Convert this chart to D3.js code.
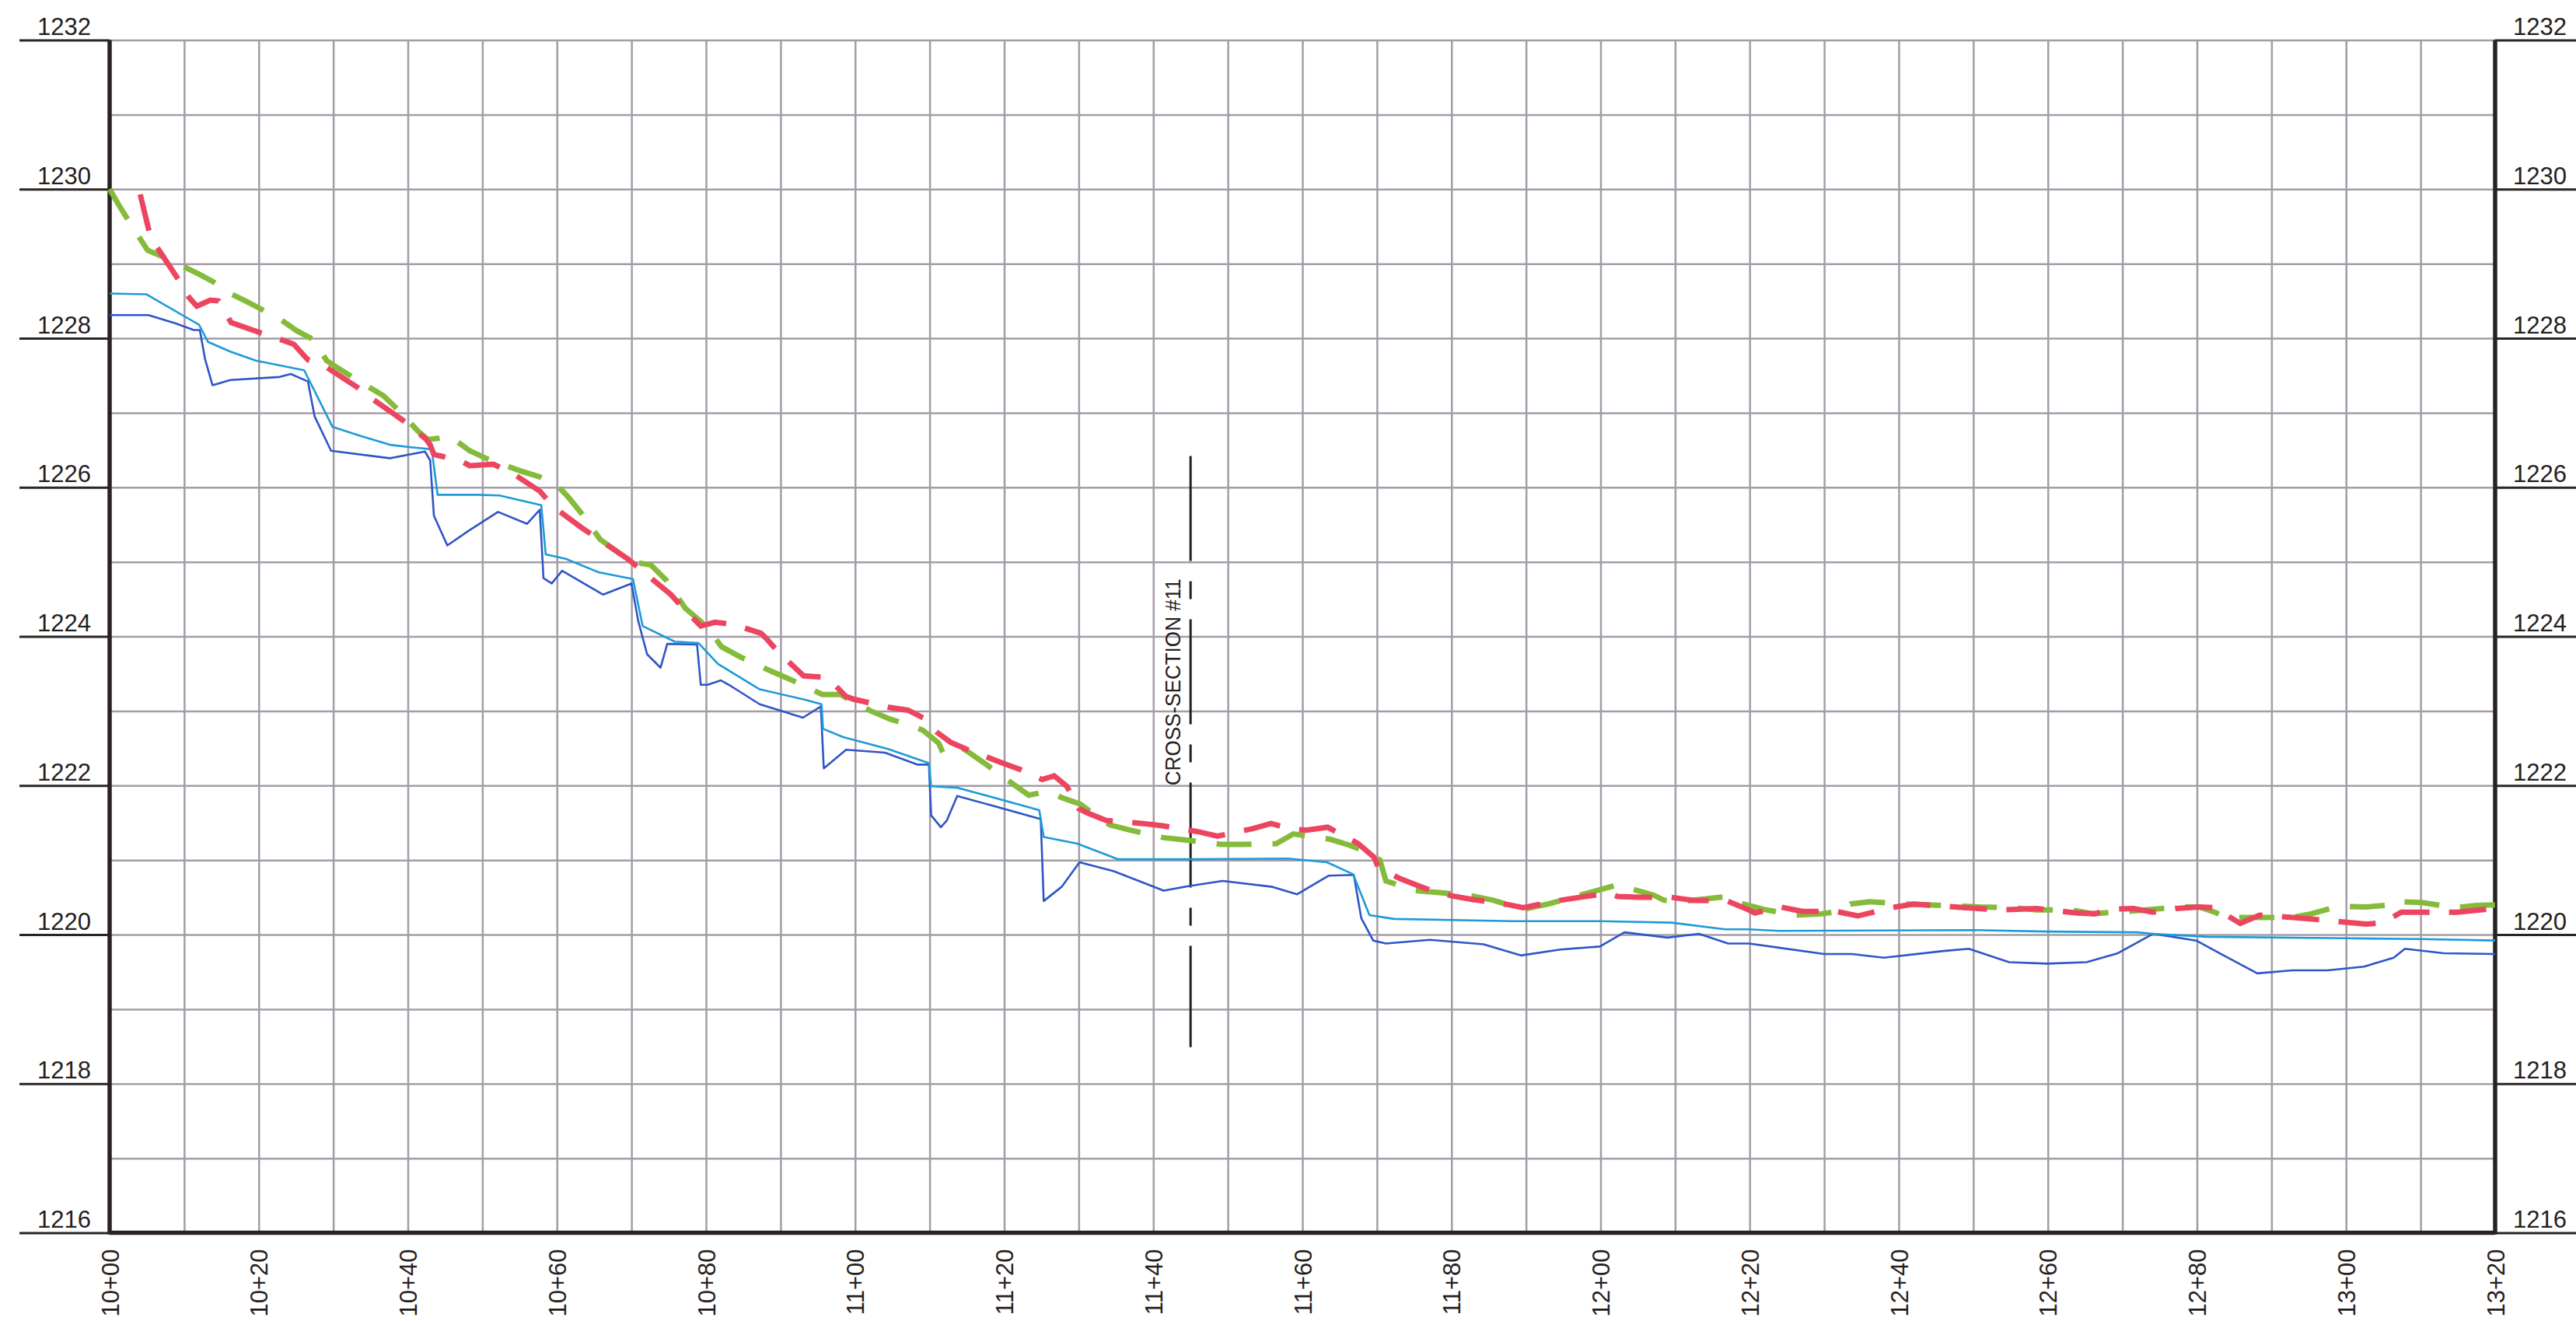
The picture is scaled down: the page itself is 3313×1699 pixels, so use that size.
<!DOCTYPE html>
<html lang="en">
<head>
<meta charset="utf-8">
<script src="https://cdn.jsdelivr.net/npm/d3@7"></script>
<style>
  body { margin: 0; background: #fff; }
  svg { display: block; font-family: "Liberation Sans", Arial, sans-serif; }
  .grid line { stroke: #a39da7; stroke-width: 2.5; }
  .grid path { display: none; }
  .tick text { fill: #252020; font-size: 31px; font-family: "Liberation Sans", Arial, sans-serif; }
</style>
</head>
<body>
<script>
// stations in feet (10+00 = 1000), elevations in feet
var elevTicks = [1216, 1218, 1220, 1222, 1224, 1226, 1228, 1230, 1232];
var stationTicks = [1000, 1020, 1040, 1060, 1080, 1100, 1120, 1140, 1160,
                    1180, 1200, 1220, 1240, 1260, 1280, 1300, 1320];

// green dashed profile
var greenLine = [[1000,1230.00],[1001.1,1229.81],[1002.7,1229.55],[1005.1,1229.18],[1007.5,1229.08],[1012.0,1228.86],
  [1014.4,1228.73],[1015.8,1228.62],[1018.6,1228.48],[1020.9,1228.36],[1022.8,1228.26],[1025.1,1228.10],[1027.4,1227.98],
  [1029.1,1227.70],[1030.3,1227.62],[1032.7,1227.47],[1036.7,1227.23],[1038.7,1227.04],[1041.3,1226.76],[1042.7,1226.64],
  [1044.2,1226.66],[1045.6,1226.69],[1048.3,1226.49],[1050.7,1226.38],[1055.1,1226.22],[1057.7,1226.14],[1060.0,1226.03],
  [1061.6,1225.86],[1063.3,1225.65],[1065.8,1225.30],[1070.0,1225.00],[1072.6,1224.96],[1074.7,1224.75],[1077.2,1224.38],
  [1080.0,1224.14],[1082.1,1223.86],[1084.7,1223.72],[1088.8,1223.53],[1091.6,1223.41],[1095.6,1223.22],[1098.1,1223.22],
  [1099.5,1223.13],[1102.1,1223.00],[1104.7,1222.89],[1107.0,1222.82],[1109.1,1222.74],[1111.2,1222.57],[1111.6,1222.48],
  [1113.3,1222.56],[1114.9,1222.47],[1117.2,1222.31],[1120.9,1222.04],[1123.3,1221.87],[1125.8,1221.92],[1127.9,1221.83],
  [1130.2,1221.75],[1132.1,1221.61],[1134.2,1221.47],[1137.0,1221.40],[1141.4,1221.30],[1144.2,1221.27],[1149.1,1221.21],
  [1151.9,1221.21],[1156.5,1221.22],[1158.8,1221.35],[1163.7,1221.28],[1166.3,1221.20],[1168.6,1221.11],[1170.4,1221.00],
  [1171.2,1220.72],[1175.2,1220.59],[1178.7,1220.56],[1182.7,1220.52],[1185.6,1220.46],[1189.6,1220.34],[1193.0,1220.41],
  [1197.3,1220.53],[1199.9,1220.60],[1202.3,1220.67],[1204.2,1220.61],[1207.1,1220.53],[1208.5,1220.46],[1211.4,1220.45],
  [1217.0,1220.51],[1218.8,1220.42],[1221.8,1220.34],[1226.0,1220.26],[1229.7,1220.28],[1231.9,1220.31],[1233.5,1220.41],
  [1236.1,1220.44],[1240.9,1220.41],[1246.3,1220.39],[1250.9,1220.37],[1255.6,1220.36],[1258.5,1220.33],[1263.2,1220.33],
  [1266.0,1220.28],[1270.7,1220.31],[1274.1,1220.34],[1278.0,1220.37],[1280.3,1220.37],[1282.4,1220.30],[1283.7,1220.24],
  [1285.3,1220.23],[1292.8,1220.23],[1295.4,1220.28],[1299.0,1220.38],[1302.7,1220.37],[1307.4,1220.41],[1307.6,1220.44],
  [1310.2,1220.43],[1314.6,1220.36],[1317.5,1220.39],[1320.0,1220.40]];

// red dashed profile
var redLine = [[1004.1,1229.93],[1005.5,1229.35],[1009.4,1228.76],[1010.7,1228.54],[1011.7,1228.43],[1013.5,1228.51],
  [1014.6,1228.50],[1016.0,1228.26],[1016.3,1228.21],[1020.3,1228.07],[1023.0,1227.98],[1024.7,1227.92],[1026.6,1227.71],
  [1029.1,1227.61],[1033.1,1227.35],[1035.3,1227.18],[1039.2,1226.91],[1041.3,1226.74],[1042.5,1226.64],[1043.0,1226.57],
  [1043.5,1226.44],[1044.4,1226.42],[1047.0,1226.36],[1048.3,1226.29],[1051.5,1226.31],[1054.0,1226.19],[1057.7,1225.95],
  [1059.5,1225.74],[1063.3,1225.46],[1065.8,1225.29],[1069.5,1225.04],[1075.3,1224.56],[1077.2,1224.35],[1079.3,1224.14],
  [1081.2,1224.19],[1083.7,1224.16],[1087.4,1224.04],[1088.1,1223.97],[1089.8,1223.78],[1093.1,1223.47],[1096.1,1223.45],
  [1096.8,1223.40],[1098.7,1223.20],[1099.7,1223.16],[1102.3,1223.10],[1104.4,1223.05],[1107.1,1223.01],[1109.3,1222.90],
  [1110.9,1222.72],[1112.8,1222.58],[1115.1,1222.48],[1119.8,1222.30],[1122.3,1222.21],[1125.1,1222.08],[1126.7,1222.13],
  [1128.4,1221.99],[1130.0,1221.69],[1131.2,1221.63],[1133.7,1221.53],[1138.6,1221.49],[1141.2,1221.46],[1146.0,1221.38],
  [1148.6,1221.32],[1153.3,1221.42],[1155.8,1221.49],[1158.4,1221.42],[1160.5,1221.40],[1163.4,1221.44],[1167.5,1221.22],
  [1169.6,1221.04],[1170.2,1220.90],[1173.1,1220.75],[1175.7,1220.65],[1177.3,1220.59],[1180.0,1220.52],[1182.9,1220.47],
  [1187.7,1220.40],[1189.6,1220.36],[1194.6,1220.46],[1199.9,1220.54],[1201.0,1220.56],[1202.3,1220.51],[1205.3,1220.50],
  [1209.5,1220.50],[1212.4,1220.46],[1217.0,1220.45],[1219.9,1220.33],[1220.7,1220.29],[1224.1,1220.37],[1227.1,1220.31],
  [1231.6,1220.31],[1234.5,1220.25],[1239.0,1220.36],[1242.0,1220.41],[1246.3,1220.38],[1249.1,1220.36],[1253.5,1220.33],
  [1258.5,1220.35],[1261.1,1220.32],[1263.9,1220.29],[1266.3,1220.28],[1268.6,1220.34],[1271.5,1220.35],[1274.1,1220.30],
  [1277.2,1220.35],[1280.3,1220.37],[1282.7,1220.36],[1283.2,1220.31],[1285.8,1220.15],[1288.4,1220.26],[1292.8,1220.23],
  [1297.5,1220.19],[1302.7,1220.14],[1305.0,1220.16],[1307.4,1220.30],[1314.9,1220.30],[1320.0,1220.35]];

// light blue profile
var lightBlueLine = [[1000,1228.60],[1004.9,1228.59],[1012.0,1228.18],[1013.2,1227.95],[1016.2,1227.82],[1019.6,1227.70],
  [1022.6,1227.64],[1026.1,1227.57],[1029.9,1226.81],[1033.6,1226.69],[1037.6,1226.57],[1040.2,1226.54],[1043.2,1226.51],
  [1044.0,1225.90],[1049.3,1225.90],[1052.3,1225.89],[1057.9,1225.76],[1058.5,1225.10],[1061.2,1225.04],[1065.6,1224.86],
  [1070.2,1224.77],[1071.5,1224.14],[1075.8,1223.93],[1079.0,1223.91],[1081.6,1223.63],[1087.2,1223.29],[1093.3,1223.15],
  [1095.5,1223.09],[1095.7,1222.76],[1098.4,1222.65],[1104.4,1222.49],[1109.9,1222.30],[1110.2,1221.99],[1113.7,1221.97],
  [1120.0,1221.80],[1124.7,1221.67],[1125.3,1221.31],[1129.8,1221.22],[1135.3,1221.01],[1144.9,1221.01],[1158.1,1221.02],
  [1163.3,1220.97],[1166.8,1220.81],[1169.0,1220.26],[1172.3,1220.21],[1188.2,1220.18],[1199.9,1220.18],[1209.5,1220.16],
  [1216.7,1220.07],[1219.9,1220.07],[1223.9,1220.05],[1250.0,1220.06],[1259.9,1220.04],[1272.0,1220.03],[1274.1,1220.01],
  [1281.4,1219.97],[1300.0,1219.95],[1310.0,1219.94],[1320.0,1219.92]];

// dark blue profile
var darkBlueLine = [[1000,1228.31],[1005.2,1228.31],[1008.8,1228.20],[1011.3,1228.11],[1012.1,1228.11],[1012.8,1227.72],
  [1013.8,1227.37],[1016.2,1227.44],[1022.8,1227.48],[1024.3,1227.52],[1026.6,1227.42],[1027.5,1226.95],[1029.7,1226.49],
  [1037.6,1226.39],[1042.3,1226.48],[1043.0,1226.36],[1043.5,1225.62],[1045.3,1225.22],[1048.2,1225.42],[1052.1,1225.67],
  [1056.0,1225.51],[1057.7,1225.70],[1058.2,1224.78],[1059.3,1224.71],[1060.7,1224.88],[1066.2,1224.56],[1070.0,1224.71],
  [1070.9,1224.21],[1072.1,1223.76],[1073.9,1223.58],[1074.8,1223.90],[1078.8,1223.89],[1079.3,1223.35],[1080.2,1223.35],
  [1082.0,1223.41],[1083.4,1223.33],[1087.2,1223.09],[1093.0,1222.91],[1095.4,1223.06],[1095.8,1222.23],[1098.8,1222.48],
  [1104.0,1222.44],[1108.4,1222.28],[1109.9,1222.28],[1110.2,1221.60],[1111.5,1221.44],[1112.3,1221.53],[1113.7,1221.86],
  [1124.9,1221.55],[1125.3,1220.45],[1127.7,1220.64],[1130.1,1220.97],[1134.7,1220.85],[1141.4,1220.59],[1144.7,1220.65],
  [1149.3,1220.72],[1156.0,1220.64],[1159.3,1220.54],[1163.5,1220.79],[1166.9,1220.80],[1167.9,1220.22],[1169.5,1219.92],
  [1171.2,1219.88],[1177.1,1219.93],[1184.3,1219.87],[1189.3,1219.72],[1194.6,1219.80],[1199.9,1219.84],[1203.2,1220.03],
  [1209.0,1219.96],[1213.2,1220.01],[1217.1,1219.88],[1219.9,1219.88],[1230.0,1219.74],[1233.7,1219.74],[1238.0,1219.69],
  [1246.0,1219.78],[1249.4,1219.81],[1254.8,1219.63],[1259.9,1219.61],[1265.2,1219.63],[1269.4,1219.75],[1274.1,1220.01],
  [1279.9,1219.92],[1283.4,1219.73],[1288.1,1219.48],[1292.8,1219.52],[1297.5,1219.52],[1302.4,1219.57],[1306.4,1219.69],
  [1307.9,1219.81],[1313.1,1219.75],[1320.0,1219.74]];

// cross-section marker
var crossSection = { label: "CROSS-SECTION #11", station: 1145, top: 1226.42, bottom: 1218.49, textFrom: 1222.0 };

var w = 3313, h = 1699;
var plotLeft = 141, plotRight = 3209, plotTop = 51.5, plotBottom = 1585.5;

var x = d3.scaleLinear().domain([1000, 1320]).range([plotLeft, plotRight]);
var y = d3.scaleLinear().domain([1216, 1232]).range([plotBottom, plotTop]);

var staFormat = function(d) {
  return Math.floor(d / 100) + "+" + String(d % 100).padStart(2, "0");
};

var svg = d3.select("body").append("svg")
    .attr("width", w)
    .attr("height", h);

// grid, 10 ft by 1 ft
svg.append("g")
    .attr("class", "grid")
    .attr("transform", "translate(0," + plotBottom + ")")
    .call(d3.axisBottom(x).tickValues(d3.range(1010, 1320, 10)).tickSize(-(plotBottom - plotTop)).tickFormat(""));

svg.append("g")
    .attr("class", "grid")
    .attr("transform", "translate(" + plotLeft + ",0)")
    .call(d3.axisLeft(y).tickValues(d3.range(1217, 1233, 1)).tickSize(-(plotRight - plotLeft)).tickFormat(""));

// elevation axes, both sides; labels sit on top of the tick lines
var yLeft = svg.append("g")
    .attr("transform", "translate(" + plotLeft + ",0)")
    .call(d3.axisLeft(y).tickValues(elevTicks).tickSize(plotLeft - 25).tickFormat(d3.format("d")));
yLeft.selectAll(".tick text").attr("x", -24).attr("dy", "-7px").attr("text-anchor", "end");

var yRight = svg.append("g")
    .attr("transform", "translate(" + plotRight + ",0)")
    .call(d3.axisRight(y).tickValues(elevTicks).tickSize(w - plotRight).tickFormat(d3.format("d")));
yRight.selectAll(".tick text").attr("x", 23).attr("dy", "-7px").attr("text-anchor", "start");

[yLeft, yRight].forEach(function(g) {
  g.select(".domain").remove();
  g.selectAll(".tick line").attr("stroke", "#2a2424").attr("stroke-width", 3);
});

// station axis
var xAxis = svg.append("g")
    .attr("transform", "translate(0," + plotBottom + ")")
    .call(d3.axisBottom(x).tickValues(stationTicks).tickSize(0).tickFormat(staFormat));
xAxis.select(".domain").remove();
xAxis.selectAll(".tick text")
    .attr("transform", "rotate(-90)")
    .attr("x", -21)
    .attr("y", 0)
    .attr("dy", "0.36em")
    .attr("text-anchor", "end");

// heavy frame lines
var frame = svg.append("g").attr("stroke", "#2a2222").attr("stroke-width", 5.5);
frame.append("line").attr("x1", plotLeft).attr("x2", plotLeft).attr("y1", plotTop).attr("y2", plotBottom + 2);
frame.append("line").attr("x1", plotRight).attr("x2", plotRight).attr("y1", plotTop).attr("y2", plotBottom + 2);
frame.append("line").attr("x1", plotLeft).attr("x2", plotRight).attr("y1", plotBottom).attr("y2", plotBottom);

// cross-section marker
svg.append("line")
    .attr("x1", x(crossSection.station)).attr("x2", x(crossSection.station))
    .attr("y1", y(crossSection.top)).attr("y2", y(crossSection.bottom))
    .attr("stroke", "#222")
    .attr("stroke-width", 3)
    .attr("stroke-dasharray", "135,26,23,26");

svg.append("text")
    .attr("transform", "translate(" + (x(crossSection.station) - 13) + "," + y(crossSection.textFrom) + ") rotate(-90)")
    .attr("text-anchor", "start")
    .attr("font-size", 28)
    .attr("fill", "#252020")
    .attr("textLength", 266)
    .attr("lengthAdjust", "spacingAndGlyphs")
    .text(crossSection.label);

// profiles
var line = d3.line()
    .x(function(d) { return x(d[0]); })
    .y(function(d) { return y(d[1]); });

svg.append("path").datum(darkBlueLine)
    .attr("d", line).attr("fill", "none")
    .attr("stroke", "#2f55c8").attr("stroke-width", 2.6).attr("stroke-linejoin", "round");

svg.append("path").datum(lightBlueLine)
    .attr("d", line).attr("fill", "none")
    .attr("stroke", "#1e9bd7").attr("stroke-width", 2.6).attr("stroke-linejoin", "round");

svg.append("path").datum(greenLine)
    .attr("d", line).attr("fill", "none")
    .attr("stroke", "#84bb3a").attr("stroke-width", 7)
    .attr("stroke-dasharray", "45,27");

svg.append("path").datum(redLine)
    .attr("d", line).attr("fill", "none")
    .attr("stroke", "#ec4560").attr("stroke-width", 7)
    .attr("stroke-dasharray", "48,25");
</script>
</body>
</html>
